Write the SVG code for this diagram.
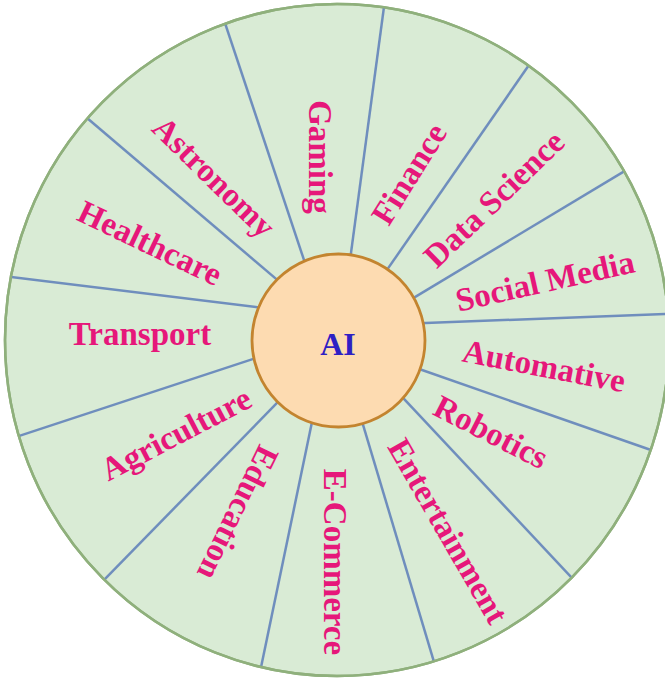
<svg xmlns="http://www.w3.org/2000/svg" width="665" height="685" viewBox="0 0 665 685">
<style>
.wheel{fill:#d9ebd5;stroke:#8fb07c;stroke-width:2.5}
.spoke{stroke:#6f8ebd;stroke-width:2.5;fill:none}
.hub{fill:#fddbb1;stroke:#c3842f;stroke-width:2.8}
.lbl{font-family:"Liberation Serif","Times New Roman",serif;font-weight:bold;font-size:33px;fill:#e6177a;text-anchor:middle;dominant-baseline:central}
.ai{font-family:"Liberation Serif","Times New Roman",serif;font-weight:bold;font-size:32px;fill:#2e20c4;text-anchor:middle;dominant-baseline:central}
</style>
<defs>
<clipPath id="wheelClip"><ellipse cx="337" cy="340" rx="332" ry="336"/></clipPath>
</defs>
<rect width="665" height="685" fill="#ffffff"/>
<g id="wheel">
<ellipse class="wheel" cx="337" cy="340" rx="332" ry="336"/>
</g>
<g id="connectors" clip-path="url(#wheelClip)">
<line class="spoke" x1="305.9" y1="265.7" x2="220.8" y2="10.5"/>
<line class="spoke" x1="350.2" y1="258.9" x2="385.3" y2="-2.9"/>
<line class="spoke" x1="385.6" y1="271.9" x2="534.7" y2="56.8"/>
<line class="spoke" x1="409.9" y1="300.1" x2="631.6" y2="166.9"/>
<line class="spoke" x1="419" y1="323.2" x2="677" y2="313.6"/>
<line class="spoke" x1="416.3" y1="368" x2="657.4" y2="452.3"/>
<line class="spoke" x1="400.9" y1="395.6" x2="579.8" y2="586.3"/>
<line class="spoke" x1="362.3" y1="422.3" x2="436.9" y2="671.6"/>
<line class="spoke" x1="312.2" y1="421.1" x2="258" y2="681.8"/>
<line class="spoke" x1="279.2" y1="400.7" x2="98" y2="586.2"/>
<line class="spoke" x1="255.7" y1="358.1" x2="12.5" y2="438.1"/>
<line class="spoke" x1="261" y1="307.7" x2="2.1" y2="275.8"/>
<line class="spoke" x1="279.6" y1="281.9" x2="79.4" y2="111.5"/>
</g>
<g id="wheel-rim">
<ellipse cx="337" cy="340" rx="332" ry="336" fill="none" stroke="#8fb07c" stroke-width="2.5"/>
</g>
<g id="hub-ai">
<circle class="hub" cx="338.5" cy="340.5" r="86.5"/>
<text class="ai" x="338" y="344">AI</text>
</g>
<g id="label-gaming"><text class="lbl" transform="translate(320,157) rotate(90)">Gaming</text></g>
<g id="label-finance"><text class="lbl" transform="translate(409,174) rotate(-58)">Finance</text></g>
<g id="label-data-science"><text class="lbl" transform="translate(494,199) rotate(-44)">Data Science</text></g>
<g id="label-social-media"><text class="lbl" transform="translate(545,281) rotate(-12.6)">Social Media</text></g>
<g id="label-automative"><text class="lbl" transform="translate(544,366) rotate(10.8)">Automative</text></g>
<g id="label-robotics"><text class="lbl" transform="translate(491,432) rotate(27)">Robotics</text></g>
<g id="label-entertainment"><text class="lbl" transform="translate(448,531) rotate(60)">Entertainment</text></g>
<g id="label-e-commerce"><text class="lbl" transform="translate(335,562) rotate(90)">E-Commerce</text></g>
<g id="label-education"><text class="lbl" transform="translate(238,513) rotate(116)">Education</text></g>
<g id="label-agriculture"><text class="lbl" transform="translate(176,434) rotate(-27.6)">Agriculture</text></g>
<g id="label-transport"><text class="lbl" transform="translate(140,334)">Transport</text></g>
<g id="label-healthcare"><text class="lbl" transform="translate(150,243) rotate(25.5)">Healthcare</text></g>
<g id="label-astronomy"><text class="lbl" transform="translate(214,177) rotate(44.4)">Astronomy</text></g>
</svg>
